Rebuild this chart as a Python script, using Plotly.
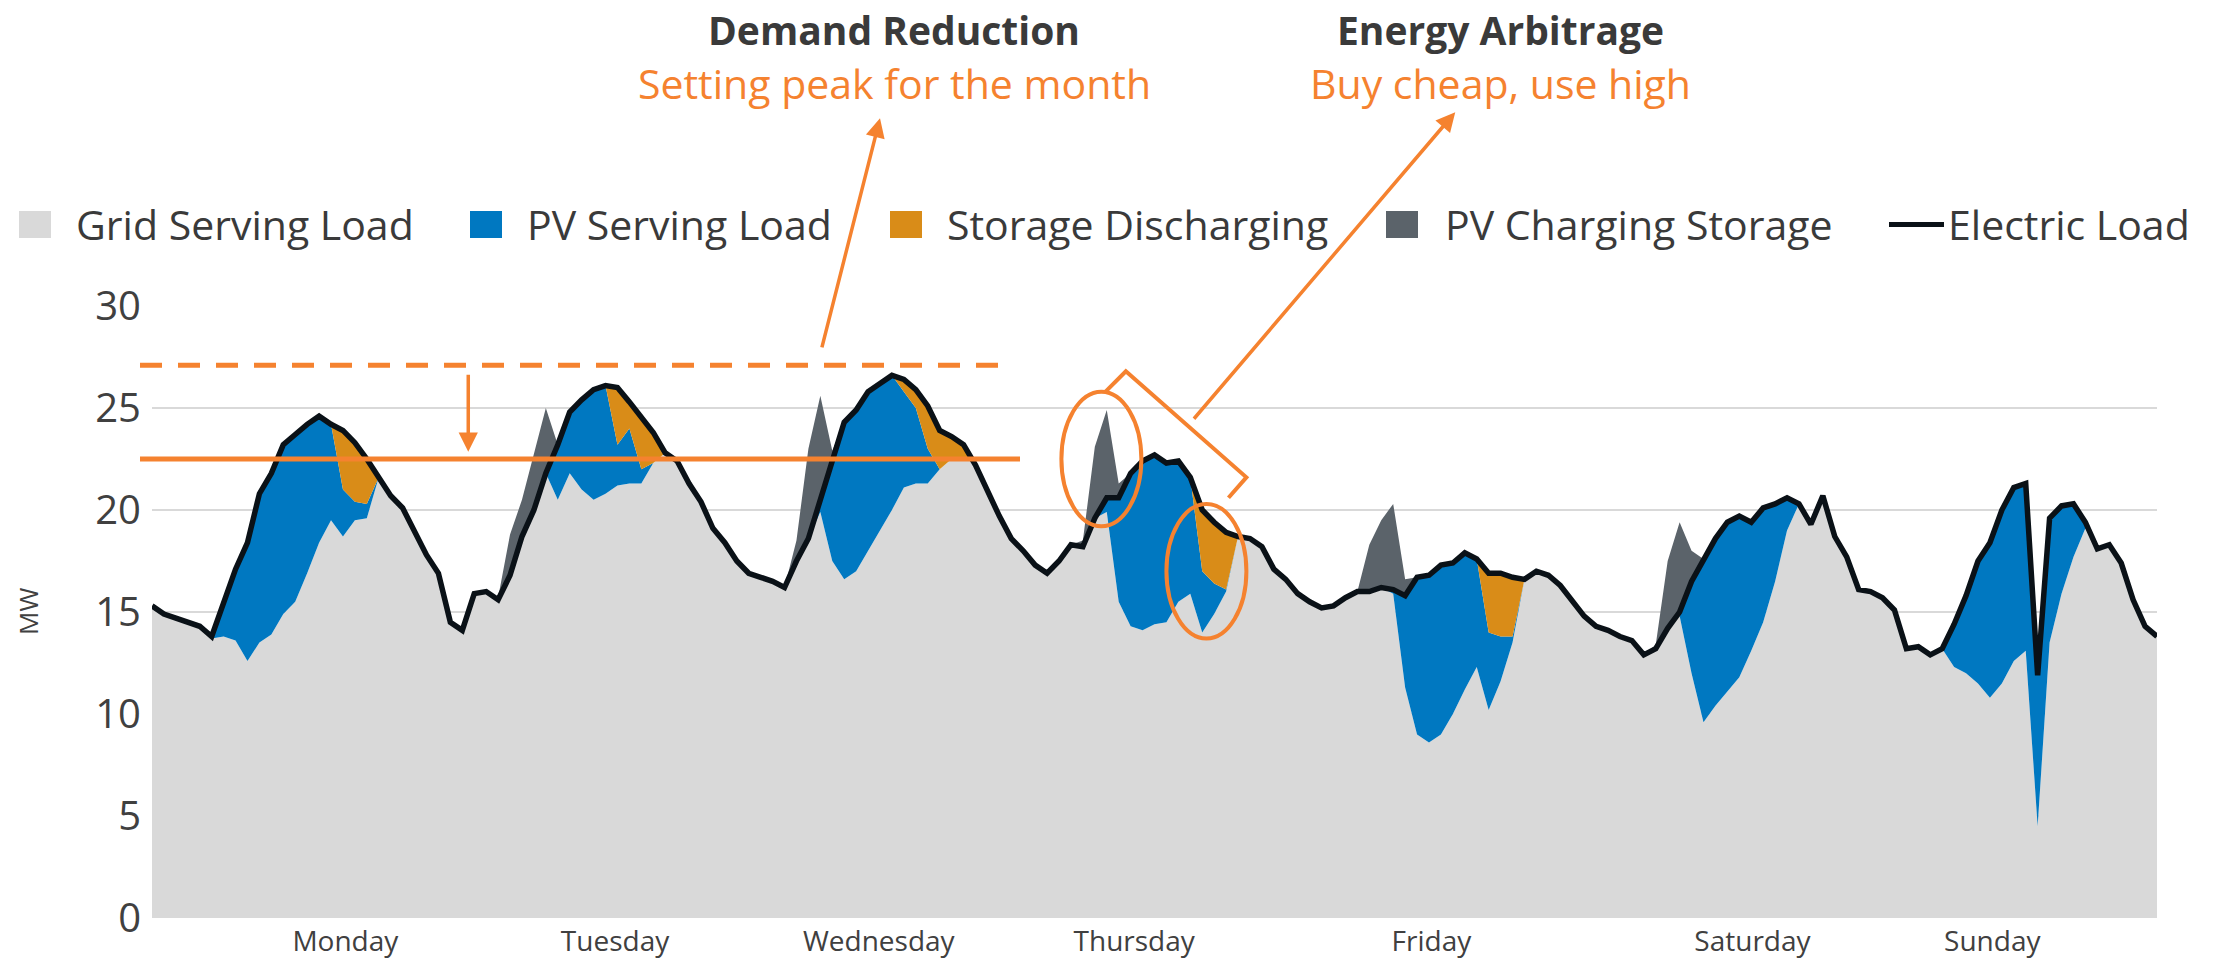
import plotly.graph_objects as go

# ---------------- data (hourly, one week) ----------------
hours = list(range(169))

electric_load = [
    15.3, 14.9, 14.7, 14.5, 14.3, 13.8, 15.4, 17.1, 18.4, 20.8,
    21.8, 23.2, 23.7, 24.2, 24.6, 24.2, 23.9, 23.3, 22.5, 21.6,
    20.7, 20.1, 19.0, 17.8, 16.9, 14.5, 14.1, 15.9, 16.0, 15.6,
    16.8, 18.7, 20.0, 21.8, 23.2, 24.8, 25.4, 25.9, 26.1, 26.0,
    25.3, 24.6, 23.8, 22.8, 22.4, 21.3, 20.4, 19.1, 18.4, 17.5,
    16.9, 16.7, 16.5, 16.2, 17.5, 18.6, 20.5, 22.5, 24.3, 24.9,
    25.8, 26.2, 26.6, 26.4, 25.9, 25.1, 23.9, 23.6, 23.2, 22.2,
    20.9, 19.7, 18.6, 18.0, 17.3, 16.9, 17.5, 18.3, 18.2, 19.6,
    20.6, 20.6, 21.8, 22.4, 22.7, 22.3, 22.4, 21.6, 20.0, 19.4,
    18.9, 18.7, 18.6, 18.2, 17.1, 16.6, 15.9, 15.5, 15.2, 15.3,
    15.7, 16.0, 16.0, 16.2, 16.1, 15.8, 16.7, 16.8, 17.3, 17.4,
    17.9, 17.6, 16.9, 16.9, 16.7, 16.6, 17.0, 16.8, 16.3, 15.6,
    14.8, 14.3, 14.1, 13.8, 13.6, 12.9, 13.2, 14.2, 15.0, 16.5,
    17.6, 18.6, 19.4, 19.7, 19.4, 20.1, 20.3, 20.6, 20.3, 19.3,
    20.7, 18.7, 17.7, 16.1, 16.0, 15.7, 15.1, 13.2, 13.3, 12.9,
    13.2, 14.4, 15.8, 17.5, 18.4, 20.0, 21.1, 21.3, 11.9, 19.6,
    20.2, 20.3, 19.4, 18.1, 18.3, 17.4, 15.6, 14.3, 13.8,
]

grid_serving = [
    15.3, 14.9, 14.7, 14.5, 14.3, 13.7, 13.8, 13.6, 12.6, 13.5,
    13.9, 14.9, 15.5, 16.9, 18.4, 19.5, 18.7, 19.5, 19.6, 21.6,
    20.7, 20.1, 19.0, 17.8, 16.9, 14.5, 14.1, 15.9, 16.0, 15.6,
    16.8, 18.7, 20.0, 21.8, 20.5, 21.8, 21.0, 20.5, 20.8, 21.2,
    21.3, 21.3, 22.3, 22.8, 22.4, 21.3, 20.4, 19.1, 18.4, 17.5,
    16.9, 16.7, 16.5, 16.2, 17.5, 18.6, 19.9, 17.5, 16.6, 17.0,
    18.0, 19.0, 20.0, 21.1, 21.3, 21.3, 22.0, 22.5, 22.6, 22.2,
    20.9, 19.7, 18.6, 18.0, 17.3, 16.9, 17.5, 18.3, 18.2, 19.6,
    19.9, 15.5, 14.3, 14.1, 14.4, 14.5, 15.5, 15.9, 14.0, 14.9,
    16.0, 18.7, 18.6, 18.2, 17.1, 16.6, 15.9, 15.5, 15.2, 15.3,
    15.7, 16.0, 16.0, 16.2, 15.9, 11.3, 9.0, 8.6, 9.0, 10.0,
    11.2, 12.3, 10.2, 11.6, 13.5, 16.6, 17.0, 16.8, 16.3, 15.6,
    14.8, 14.3, 14.1, 13.8, 13.6, 12.9, 13.2, 14.2, 14.8, 12.0,
    9.6, 10.4, 11.1, 11.8, 13.1, 14.5, 16.5, 19.0, 20.3, 19.3,
    20.7, 18.7, 17.7, 16.1, 16.0, 15.7, 15.1, 13.2, 13.3, 12.9,
    13.2, 12.3, 12.0, 11.5, 10.8, 11.5, 12.6, 13.1, 4.5, 13.5,
    15.9, 17.7, 19.1, 18.1, 18.3, 17.4, 15.6, 14.3, 13.8,
]

storage_discharging = [
    0, 0, 0, 0, 0, 0, 0, 0, 0, 0,
    0, 0, 0, 0, 0, 0, 2.9, 2.9, 2.2, 0,
    0, 0, 0, 0, 0, 0, 0, 0, 0, 0,
    0, 0, 0, 0, 0, 0, 0, 0, 0, 2.8,
    1.3, 2.6, 1.5, 0, 0, 0, 0, 0, 0, 0,
    0, 0, 0, 0, 0, 0, 0, 0, 0, 0,
    0, 0, 0, 0.6, 0.9, 2.1, 1.9, 1.1, 0.6, 0,
    0, 0, 0, 0, 0, 0, 0, 0, 0, 0,
    0, 0, 0, 0, 0, 0, 0, 0, 3.0, 3.0,
    2.8, 0, 0, 0, 0, 0, 0, 0, 0, 0,
    0, 0, 0, 0, 0, 0, 0, 0, 0, 0,
    0, 0, 2.9, 3.1, 2.9, 0, 0, 0, 0, 0,
    0, 0, 0, 0, 0, 0, 0, 0, 0, 0,
    0, 0, 0, 0, 0, 0, 0, 0, 0, 0,
    0, 0, 0, 0, 0, 0, 0, 0, 0, 0,
    0, 0, 0, 0, 0, 0, 0, 0, 0, 0,
    0, 0, 0, 0, 0, 0, 0, 0, 0,
]

pv_charging_storage = [
    0, 0, 0, 0, 0, 0, 0, 0, 0, 0,
    0, 0, 0, 0, 0, 0, 0, 0, 0, 0,
    0, 0, 0, 0, 0, 0, 0, 0, 0, 0.1,
    2.0, 1.8, 2.8, 3.2, 0, 0, 0, 0, 0, 0,
    0, 0, 0, 0, 0, 0, 0, 0, 0, 0,
    0, 0, 0, 0, 1.0, 4.4, 5.1, 0.4, 0, 0,
    0, 0, 0, 0, 0, 0, 0, 0, 0, 0,
    0, 0, 0, 0, 0, 0, 0, 0, 0.3, 3.5,
    4.3, 0.7, 0, 0, 0, 0, 0, 0, 0, 0,
    0, 0, 0, 0, 0, 0, 0, 0, 0, 0,
    0, 0, 2.3, 3.3, 4.2, 0.8, 0, 0, 0, 0,
    0, 0, 0, 0, 0, 0, 0, 0, 0, 0,
    0, 0, 0, 0, 0, 0, 0.2, 3.3, 4.4, 1.5,
    0, 0, 0, 0, 0, 0, 0, 0, 0, 0,
    0, 0, 0, 0, 0, 0, 0, 0, 0, 0,
    0, 0, 0, 0, 0, 0, 0, 0, 0, 0,
    0, 0, 0, 0, 0, 0, 0, 0, 0,
]

pv_serving = [max(0.0, round(l - g - s, 2))
              for l, g, s in zip(electric_load, grid_serving, storage_discharging)]

day_labels = ["Monday", "Tuesday", "Wednesday", "Thursday", "Friday", "Saturday", "Sunday"]
day_positions = [16.2, 38.8, 60.9, 82.3, 107.2, 134.1, 154.2]

month_peak = 27.1      # original monthly peak (MW)
reduced_peak = 22.5    # reduced peak with storage (MW)

series_names = ["Grid Serving Load", "PV Serving Load", "Storage Discharging",
                "PV Charging Storage", "Electric Load"]

# ---------------- styling ----------------
C_GRID = "#D9D9D9"
C_PV = "#0078C1"
C_STOR = "#D98C18"
C_CHG = "#5B636A"
C_LOAD = "#0A1117"
C_ORANGE = "#F5822F"
C_TEXT = "#3A3A3A"
FONT = "Open Sans"

W, H = 2221, 959
PL, PR, PT, PB = 152, 2157, 306, 918


def px(x):
    return (x - PL) / (PR - PL)


def py(y):
    return (PB - y) / (PB - PT)


fig = go.Figure()
area_series = [
    (series_names[0], grid_serving, C_GRID),
    (series_names[1], pv_serving, C_PV),
    (series_names[2], storage_discharging, C_STOR),
    (series_names[3], pv_charging_storage, C_CHG),
]
for name, vals, col in area_series:
    fig.add_trace(go.Scatter(
        x=hours, y=vals, name=name, mode="lines", stackgroup="energy",
        line=dict(width=0, color=col), fillcolor=col, showlegend=False,
        hoverinfo="skip"))

fig.add_trace(go.Scatter(
    x=hours, y=electric_load, name=series_names[4], mode="lines",
    line=dict(color=C_LOAD, width=5.5), showlegend=False, hoverinfo="skip"))

shapes = []
annotations = []

# peak lines
shapes.append(dict(type="line", xref="paper", yref="y", x0=px(140), x1=px(1011),
                   y0=month_peak, y1=month_peak,
                   line=dict(color=C_ORANGE, width=5, dash="22px,16px")))
shapes.append(dict(type="line", xref="paper", yref="y", x0=px(140), x1=px(1020),
                   y0=reduced_peak, y1=reduced_peak,
                   line=dict(color=C_ORANGE, width=5)))

# ellipses
shapes.append(dict(type="circle", xref="x", yref="y", x0=76.2, x1=82.9, y0=19.2, y1=25.8,
                   line=dict(color=C_ORANGE, width=4)))
shapes.append(dict(type="circle", xref="x", yref="y", x0=85.0, x1=91.7, y0=13.7, y1=20.3,
                   line=dict(color=C_ORANGE, width=4)))
# bracket
shapes.append(dict(type="path", xref="x", yref="y",
                   path="M 79.9,25.8 L 81.6,26.8 L 91.7,21.6 L 90.2,20.6",
                   line=dict(color=C_ORANGE, width=4)))

# arrows
annotations.append(dict(x=26.5, y=22.85, ax=26.5, ay=26.7, xref="x", yref="y",
                        axref="x", ayref="y", text="", showarrow=True, arrowhead=2,
                        arrowsize=1.1, arrowwidth=3.5, arrowcolor=C_ORANGE, standoff=0))
annotations.append(dict(x=61.0, y=39.2, ax=56.1, ay=27.9, xref="x", yref="y",
                        axref="x", ayref="y", text="", showarrow=True, arrowhead=2,
                        arrowsize=1.1, arrowwidth=3.5, arrowcolor=C_ORANGE, standoff=0))
annotations.append(dict(x=109.2, y=39.5, ax=87.2, ay=24.4, xref="x", yref="y",
                        axref="x", ayref="y", text="", showarrow=True, arrowhead=2,
                        arrowsize=1.1, arrowwidth=3.5, arrowcolor=C_ORANGE, standoff=0))

# headline texts
for cx, title, sub in [(894, "Demand Reduction", "Setting peak for the month"),
                       (1500, "Energy Arbitrage", "Buy cheap, use high")]:
    annotations.append(dict(x=px(cx), y=py(29), xref="paper", yref="paper",
                            text="<b>" + title + "</b>", showarrow=False,
                            font=dict(family=FONT, size=39, color=C_TEXT),
                            xanchor="center", yanchor="middle"))
    annotations.append(dict(x=px(cx), y=py(83), xref="paper", yref="paper",
                            text=sub, showarrow=False,
                            font=dict(family=FONT, size=41, color=C_ORANGE),
                            xanchor="center", yanchor="middle"))

# manual legend
legend_cols = [C_GRID, C_PV, C_STOR, C_CHG]
legend_key_x = [19, 470, 890, 1386]
legend_text_x = [77, 528, 948, 1446, 1949]
for i, col in enumerate(legend_cols):
    shapes.append(dict(type="rect", xref="paper", yref="paper",
                       x0=px(legend_key_x[i]), x1=px(legend_key_x[i] + 32),
                       y0=py(238), y1=py(211), fillcolor=col, line=dict(width=0)))
shapes.append(dict(type="line", xref="paper", yref="paper", x0=px(1889), x1=px(1944),
                   y0=py(224.5), y1=py(224.5), line=dict(color=C_LOAD, width=5)))
for i, name in enumerate(series_names):
    annotations.append(dict(x=px(legend_text_x[i] - 3), y=py(224), xref="paper", yref="paper",
                            text=name, showarrow=False, xanchor="left", yanchor="middle",
                            font=dict(family=FONT, size=41, color=C_TEXT)))

# y-axis title
annotations.append(dict(x=px(28), y=0.5, xref="paper", yref="paper", text="MW",
                        textangle=-90, showarrow=False, xanchor="center", yanchor="middle",
                        font=dict(family=FONT, size=26, color="#404040")))

fig.update_layout(
    width=W, height=H,
    margin=dict(l=PL, r=W - PR, t=PT, b=H - PB),
    paper_bgcolor="white", plot_bgcolor="white",
    showlegend=False,
    shapes=shapes, annotations=annotations,
    font=dict(family=FONT, color=C_TEXT),
    xaxis=dict(range=[0, 168], tickmode="array", tickvals=day_positions, ticktext=day_labels,
               showgrid=False, zeroline=False, showline=False, ticks="", automargin=False,
               tickfont=dict(family=FONT, size=28, color="#404040"), ticklabelstandoff=4),
    yaxis=dict(range=[0, 30], dtick=5, tick0=0, showgrid=True, gridcolor="#D9D9D9",
               gridwidth=1.5, zeroline=False, showline=False, ticks="", automargin=False,
               tickfont=dict(family=FONT, size=40, color="#404040"), ticklabelstandoff=10),
)

fig.write_html("out.html",
               config={"displayModeBar": False},
               post_script="document.body.style.margin='0px';"
                           "document.body.style.overflow='hidden';")
